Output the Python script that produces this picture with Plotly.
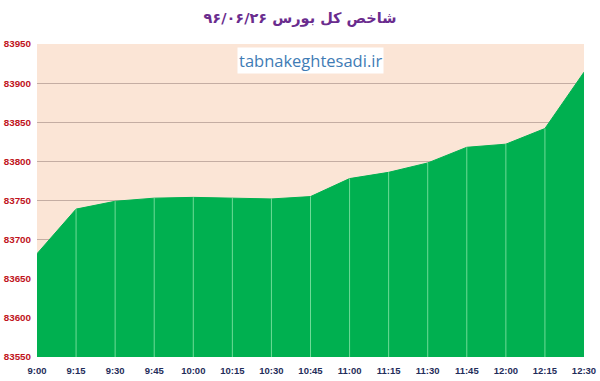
import plotly.graph_objects as go

times = ["9:00", "9:15", "9:30", "9:45", "10:00", "10:15", "10:30", "10:45",
         "11:00", "11:15", "11:30", "11:45", "12:00", "12:15", "12:30"]
index_values = [83682, 83739, 83749, 83753, 83754, 83753, 83752, 83755,
                83778, 83786, 83798, 83818, 83822, 83842, 83914]
y_ticks = [83550, 83600, 83650, 83700, 83750, 83800, 83850, 83900, 83950]
title_text = "شاخص کل بورس ۹۶/۰۶/۲۶"
watermark = "tabnakeghtesadi.ir"

y_base = y_ticks[0]
x_pos = list(range(len(times)))

fig = go.Figure()
fig.add_trace(go.Scatter(
    x=x_pos, y=index_values, mode="lines",
    line=dict(color="#00B050", width=1),
    fill="tozeroy", fillcolor="#00B050",
    hoverinfo="skip", showlegend=False,
))

# drop lines from each point to the axis
dx, dy = [], []
for i, v in zip(x_pos[1:-1], index_values[1:-1]):
    dx += [i, i, None]
    dy += [y_base, v, None]
fig.add_trace(go.Scatter(
    x=dx, y=dy, mode="lines",
    line=dict(color="rgba(200,255,210,0.55)", width=1),
    hoverinfo="skip", showlegend=False,
))

fig.update_layout(
    width=600, height=381,
    margin=dict(l=37, r=16, t=44, b=24),
    paper_bgcolor="white",
    plot_bgcolor="#FBE5D6",
    title=dict(text=title_text, x=0.5, xanchor="center", y=0.953, yanchor="middle",
               font=dict(family="DejaVu Sans", size=14.5, color="#6A2C8E", weight="bold")),
    xaxis=dict(
        range=[0, len(times) - 1], automargin=False,
        tickmode="array", tickvals=x_pos, ticktext=times,
        showgrid=False, zeroline=False, showline=False,
        ticks="", ticklen=0, ticklabelstandoff=6,
        tickfont=dict(family="Liberation Sans", size=9.5, color="#1F2D5A", weight="bold"),
    ),
    yaxis=dict(
        range=[y_ticks[0], y_ticks[-1]], automargin=False,
        tickmode="array", tickvals=y_ticks, ticktext=[str(t) for t in y_ticks],
        showgrid=True, gridcolor="#C4ADA3", gridwidth=1,
        zeroline=False, showline=False, ticks="", ticklabelstandoff=5,
        tickfont=dict(family="Liberation Sans", size=9.8, color="#C0141C", weight="bold"),
    ),
    annotations=[dict(
        text=watermark, xref="paper", yref="paper", x=0.5, y=0.99,
        xanchor="center", yanchor="top", showarrow=False,
        bgcolor="white",
        font=dict(family="Open Sans", size=16.5, color="#3F7CB5"),
    )],
)

fig.write_html("out.html", config={"displayModeBar": False},
               post_script="document.body.style.margin='0';")
